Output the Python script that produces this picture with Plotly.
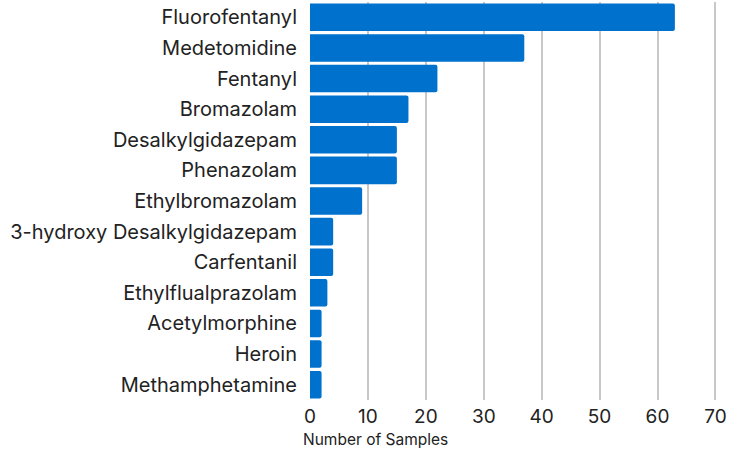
import plotly.graph_objects as go

categories = ["Fluorofentanyl", "Medetomidine", "Fentanyl", "Bromazolam", "Desalkylgidazepam",
              "Phenazolam", "Ethylbromazolam", "3-hydroxy Desalkylgidazepam", "Carfentanil",
              "Ethylflualprazolam", "Acetylmorphine", "Heroin", "Methamphetamine"]
values = [63, 37, 22, 17, 15, 15, 9, 4, 4, 3, 2, 2, 2]
tick_vals = [0, 10, 20, 30, 40, 50, 60, 70]

fig = go.Figure(go.Bar(
    x=values, y=categories, orientation="h",
    marker=dict(color="#0072CE", line=dict(width=0)),
))

font_family = "Inter, Lato, 'Noto Sans', sans-serif"
fig.update_layout(
    width=729, height=450,
    margin=dict(l=310, r=2, t=2, b=50, autoexpand=False),
    paper_bgcolor="white", plot_bgcolor="white",
    bargap=0.1, barcornerradius=2,
    font=dict(family=font_family, size=20, color="#222222"),
    showlegend=False,
    xaxis=dict(range=[0, 72], tickvals=tick_vals, showgrid=True, gridcolor="#C8C8C8",
               gridwidth=2, zeroline=False, showline=False, ticks="", automargin=False,
               ticklabelstandoff=3, tickfont=dict(size=19, color="#222222")),
    yaxis=dict(autorange="reversed", showgrid=False, zeroline=False, showline=False,
               ticks="", ticklabelstandoff=12, automargin=False,
               tickfont=dict(size=20, color="#222222")),
    annotations=[dict(text="Number of Samples", x=0, y=0, xref="paper", yref="paper",
                      xanchor="left", yanchor="top", xshift=-9, yshift=-28, showarrow=False,
                      font=dict(size=15.5, color="#222222"))],
)

fig.write_html("out.html", config={"displayModeBar": False},
               post_script="document.body.style.margin='0';document.body.style.overflow='hidden';")
